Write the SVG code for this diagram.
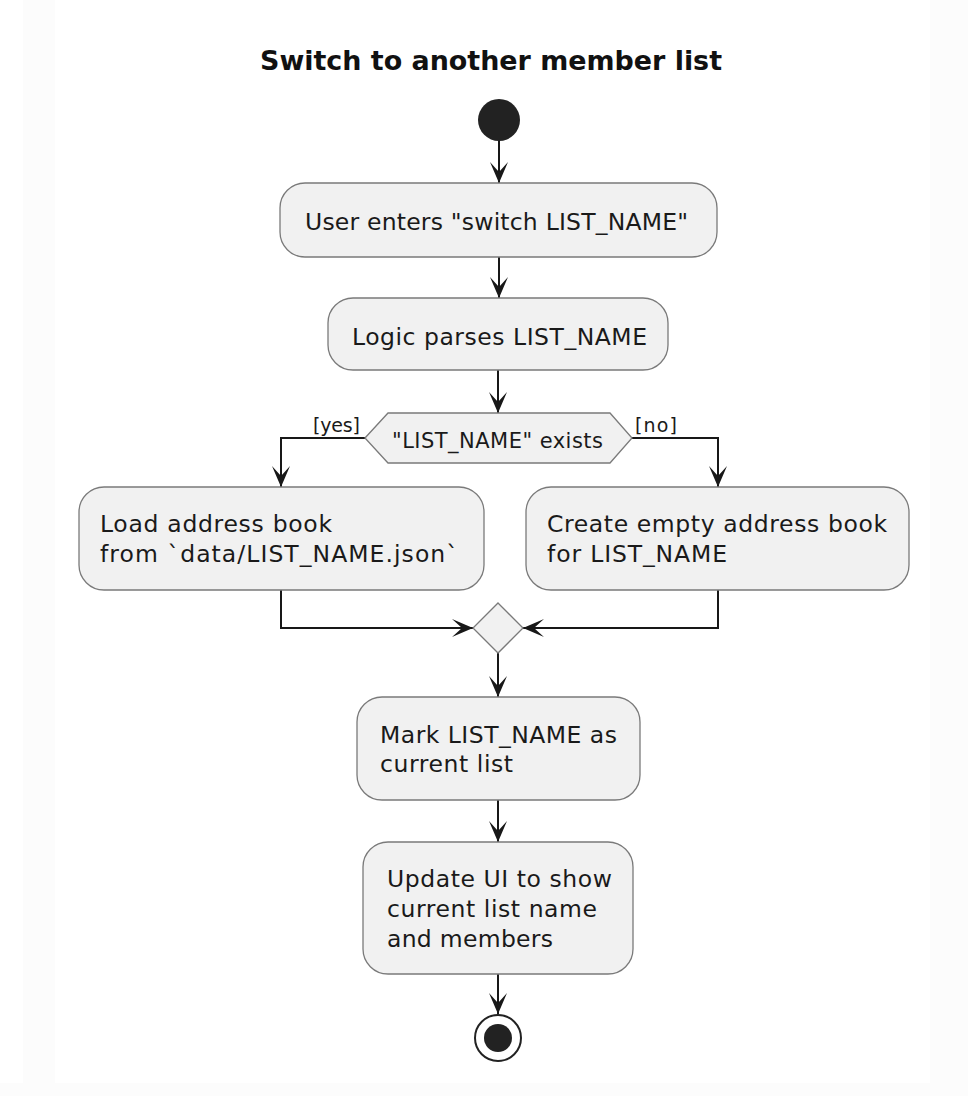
<svg xmlns="http://www.w3.org/2000/svg" width="968" height="1096" viewBox="0 0 968 1096">
<style>
.t{font-family:"DejaVu Sans","Liberation Sans",sans-serif;fill:#1a1a1a;font-size:23.5px}
.h{font-size:21px}
.g{font-size:19px}
.title{font-family:"DejaVu Sans","Liberation Sans",sans-serif;font-weight:bold;font-size:26px;fill:#111}
.box{fill:#f1f1f1;stroke:#7a7a7a;stroke-width:1.3}
.ln{fill:none;stroke:#181818;stroke-width:2;marker-end:url(#arr)}
</style>
<defs>
<marker id="arr" viewBox="0 -10 22 20" refX="21" refY="0" markerWidth="22" markerHeight="20" markerUnits="userSpaceOnUse" orient="auto">
<path d="M0,-9 L21,0 L0,9 L10,0 Z" fill="#181818"/>
</marker>
</defs>
<rect width="968" height="1096" fill="#fcfcfc"/>
<rect x="0" y="0" width="23" height="1083" fill="#ffffff"/>
<rect x="55" y="0" width="875" height="1083" fill="#ffffff"/>
<text class="title" x="260" y="70" textLength="462" lengthAdjust="spacingAndGlyphs">Switch to another member list</text>
<g id="connectors">
<line class="ln" x1="499" y1="141" x2="499" y2="183"/>
<line class="ln" x1="499" y1="257" x2="499" y2="298"/>
<line class="ln" x1="498" y1="370" x2="498" y2="413"/>
<polyline class="ln" points="365,438 281,438 281,487"/>
<polyline class="ln" points="632,438 718,438 718,487"/>
<polyline class="ln" points="281,590 281,628 473,628"/>
<polyline class="ln" points="718,590 718,628 523,628"/>
<line class="ln" x1="498" y1="653" x2="498" y2="697"/>
<line class="ln" x1="498" y1="800" x2="498" y2="842"/>
<line class="ln" x1="498" y1="974" x2="498" y2="1014"/>
<text class="t g" x="313" y="432" textLength="47">[yes]</text>
<text class="t g" x="635" y="432" textLength="42">[no]</text>
</g>
<g id="start"><circle cx="499" cy="120" r="21" fill="#222"/></g>
<g id="n1"><rect class="box" x="280" y="183" width="437" height="74" rx="25"/><text class="t" x="305" y="230" textLength="383">User enters "switch LIST_NAME"</text></g>
<g id="n2"><rect class="box" x="328" y="298" width="340" height="72" rx="25"/><text class="t" x="352" y="345" textLength="295">Logic parses LIST_NAME</text></g>
<g id="d1"><polygon class="box" points="365,438 388,413 610,413 632,438 610,463 388,463"/><text class="t h" x="392" y="448" textLength="211">"LIST_NAME" exists</text></g>
<g id="n3"><rect class="box" x="79" y="487" width="405" height="103" rx="25"/><text class="t" x="100" y="532" textLength="232">Load address book</text><text class="t" x="100" y="562" textLength="358">from `data/LIST_NAME.json`</text></g>
<g id="n4"><rect class="box" x="526" y="487" width="383" height="103" rx="25"/><text class="t" x="547" y="532" textLength="340">Create empty address book</text><text class="t" x="547" y="562" textLength="180">for LIST_NAME</text></g>
<g id="merge"><polygon class="box" points="498,603 523,628 498,653 473,628"/></g>
<g id="n5"><rect class="box" x="357" y="697" width="283" height="103" rx="25"/><text class="t" x="380" y="743" textLength="237">Mark LIST_NAME as</text><text class="t" x="380" y="772" textLength="133">current list</text></g>
<g id="n6"><rect class="box" x="363" y="842" width="270" height="132" rx="25"/><text class="t" x="387" y="887" textLength="225">Update UI to show</text><text class="t" x="387" y="917" textLength="210">current list name</text><text class="t" x="387" y="947" textLength="166">and members</text></g>
<g id="end"><circle cx="498" cy="1038" r="23" fill="#fff" stroke="#222" stroke-width="2"/><circle cx="498" cy="1038" r="14" fill="#222"/></g>
</svg>
